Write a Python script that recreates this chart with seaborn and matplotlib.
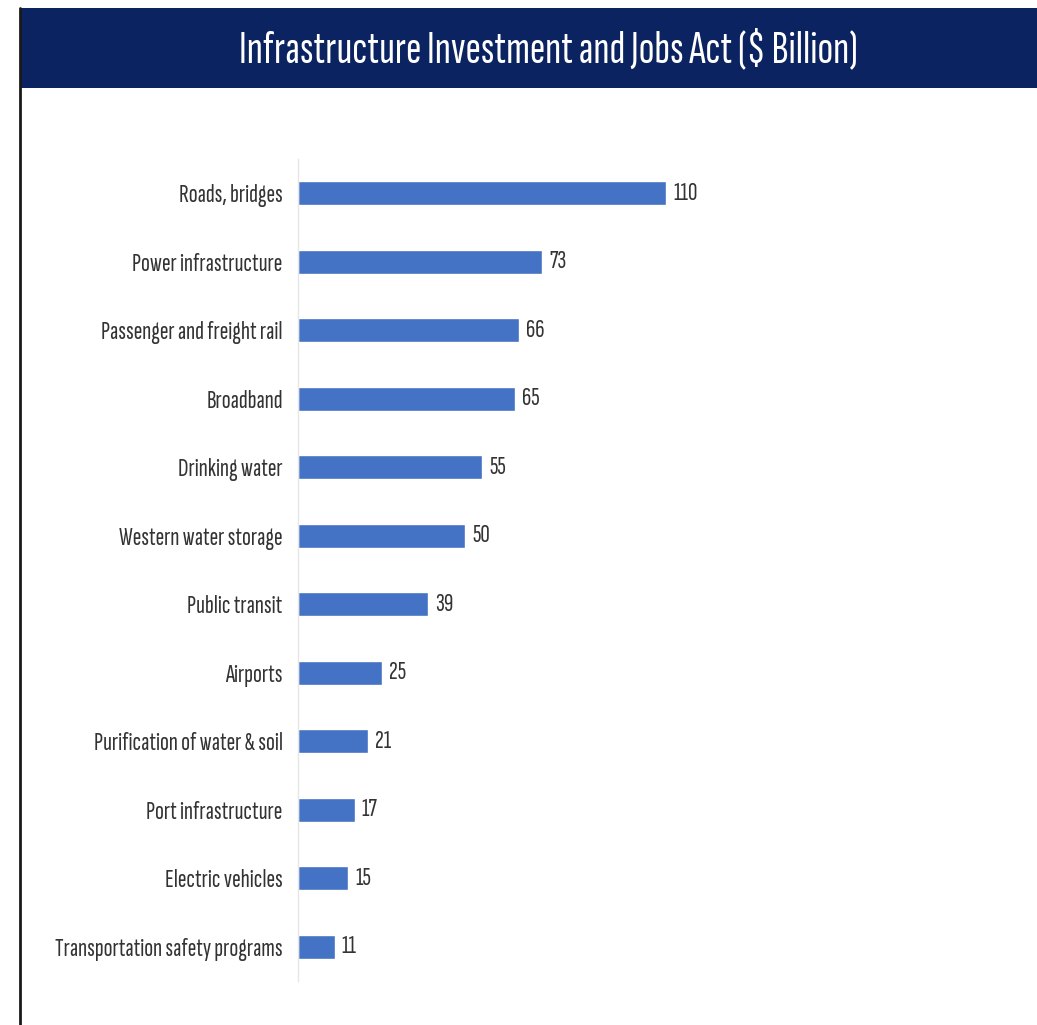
import matplotlib
matplotlib.use("Agg")
import matplotlib.pyplot as plt
from matplotlib import font_manager
import seaborn as sns
import pandas as pd

categories = ["Roads, bridges", "Power infrastructure", "Passenger and freight rail",
              "Broadband", "Drinking water", "Western water storage", "Public transit",
              "Airports", "Purification of water & soil", "Port infrastructure",
              "Electric vehicles", "Transportation safety programs"]
values = [110, 73, 66, 65, 55, 50, 39, 25, 21, 17, 15, 11]
title = "Infrastructure Investment and Jobs Act ($ Billion)"

sns.set_style("white")
names = {f.name for f in font_manager.fontManager.ttflist}
fam = "DejaVu Sans"
for cand in ["Sofia Sans Extra Condensed", "Fira Sans Extra Condensed", "PT Sans Narrow", "Roboto Condensed"]:
    if cand in names:
        fam = cand
        break
plt.rcParams['font.family'] = [fam, 'DejaVu Sans']

W, H = 1037, 1025
fig = plt.figure(figsize=(W/100, H/100), dpi=100)
renderer = fig.canvas.get_renderer()

def fit_size(text, target_px, base=20, weight="normal"):
    t = fig.text(0, 0, text, fontsize=base, fontweight=weight)
    w = t.get_window_extent(renderer).width
    t.remove()
    return base * target_px / w

lab_size = fit_size("Transportation safety programs", 228)
title_size = fit_size(title, 620, weight="light")

df = pd.DataFrame({"cat": categories, "val": values})

ax = fig.add_axes([298/W, 1-981/H, (1010-298)/W, (981-159)/H])
sns.barplot(data=df, y="cat", x="val", color="#4472C4", width=0.35, ax=ax,
            orient="h", saturation=1)
ax.set_xlim(0, (1010-298)/3.345)
ax.set_ylim(11.5, -0.5)
ax.set_xlabel("")
ax.set_ylabel("")
ax.set_xticks([])
for s in ["top", "right", "bottom"]:
    ax.spines[s].set_visible(False)
ax.spines["left"].set_color("#E6E6E6")
ax.spines["left"].set_linewidth(1.0)
ax.tick_params(axis="y", length=0, pad=11, labelsize=lab_size, labelcolor="#333333")
for i, v in enumerate(values):
    ax.annotate(str(v), (v, i), xytext=(5, 0), textcoords="offset points",
                va="center", ha="left", fontsize=lab_size, color="#333333")

# title banner
fig.patches.append(plt.Rectangle((20/W, 1-88/H), 1-20/W, 80/H, transform=fig.transFigure,
                                 facecolor="#0B2360", edgecolor="none", zorder=0))
fig.text(548/W, 1-50/H, title, ha="center", va="center", color="white",
         fontsize=title_size, fontweight="light")
fig.add_artist(plt.Line2D([20/W, 20/W], [0, 1-8/H], transform=fig.transFigure,
                          color="#1a1a1a", linewidth=2))

fig.savefig("out.png", dpi=100)
